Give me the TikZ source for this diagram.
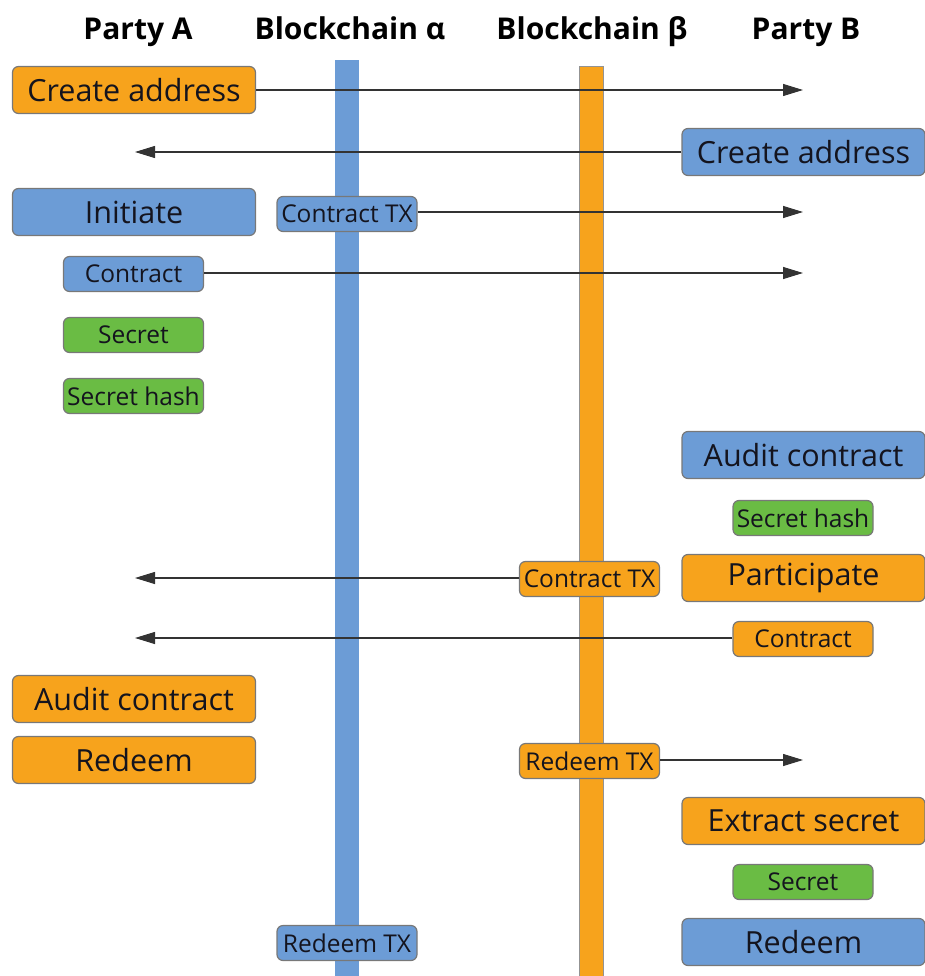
\documentclass[tikz,border=0pt]{standalone}
\usepackage{fontspec}
\setmainfont{Open Sans}
\usetikzlibrary{arrows.meta}
\definecolor{cblue}{RGB}{108,156,214}
\definecolor{corange}{RGB}{247,163,28}
\definecolor{cgreen}{RGB}{106,188,68}
\definecolor{cborder}{RGB}{120,120,120}
\definecolor{ctext}{RGB}{20,20,30}
\begin{document}
\begin{tikzpicture}[x=1pt,y=-1pt,
  box/.style={draw=cborder, line width=1.2pt, rounded corners=6pt, inner sep=0pt, text=ctext, align=center},
  bigbox/.style={box, minimum width=243pt, minimum height=47pt, font=\fontsize{30.5}{33}\selectfont},
  smallbox/.style={box, minimum width=140pt, minimum height=35pt, font=\fontsize{24.5}{27}\selectfont},
  head/.style={font=\fontsize{30}{33}\selectfont\bfseries, text=black, anchor=base},
  msg/.style={draw=black!80, line width=1.1pt, -{Triangle[length=20pt,width=12pt]}}
]
\useasboundingbox (0,0) rectangle (925,976);
% headers
\node[head] (hA) at (138,40) {Party A};
\node[head] (hAl) at (350,40) {Blockchain α};
\node[head] (hBe) at (592,40) {Blockchain β};
\node[head] (hB) at (806,40) {Party B};
% chains
\fill[cblue] (335,60) rectangle (359,976);
\filldraw[fill=corange, draw=cborder!80, line width=0.8pt] (579,66) rectangle (603,977);
% boxes
\node[bigbox, fill=corange] (caA) at (134,90) {Create address};
\node[bigbox, fill=cblue] (caB) at (803.5,152) {Create address};
\node[bigbox, fill=cblue] (init) at (134,212) {Initiate};
\node[smallbox, fill=cblue] (ctxA) at (347,214) {Contract TX};
\node[smallbox, fill=cblue] (conA) at (133.5,274) {Contract};
\node[smallbox, fill=cgreen] (secA) at (133.5,335) {Secret};
\node[smallbox, fill=cgreen] (shA) at (133.5,396) {Secret hash};
\node[bigbox, fill=cblue] (audB) at (803.5,455) {Audit contract};
\node[smallbox, fill=cgreen] (shB) at (803,518) {Secret hash};
\node[smallbox, fill=corange] (ctxB) at (589.5,579) {Contract TX};
\node[bigbox, fill=corange] (part) at (803.5,578) {Participate};
\node[smallbox, fill=corange] (conB) at (803,639) {Contract};
\node[bigbox, fill=corange] (audA) at (134,699) {Audit contract};
\node[bigbox, fill=corange] (redA) at (134,760) {Redeem};
\node[smallbox, fill=corange] (rtxB) at (589.5,761) {Redeem TX};
\node[bigbox, fill=corange] (ext) at (803.5,821) {Extract secret};
\node[smallbox, fill=cgreen] (secB) at (803,882) {Secret};
\node[bigbox, fill=cblue] (redB) at (803.5,942) {Redeem};
\node[smallbox, fill=cblue] (rtxA) at (347,943) {Redeem TX};
% free ends
\coordinate (e1) at (803,90);
\coordinate (e2) at (135,152);
\coordinate (e3) at (803,212);
\coordinate (e4) at (803,273);
\coordinate (e5) at (135,578);
\coordinate (e6) at (135,638);
\coordinate (e7) at (803,760);
% messages
\draw[msg] (caA.east |- e1) -- (e1);
\draw[msg] (caB.west |- e2) -- (e2);
\draw[msg] (ctxA.east |- e3) -- (e3);
\draw[msg] (conA.east |- e4) -- (e4);
\draw[msg] (ctxB.west |- e5) -- (e5);
\draw[msg] (conB.west |- e6) -- (e6);
\draw[msg] (rtxB.east |- e7) -- (e7);
\end{tikzpicture}
\end{document}
